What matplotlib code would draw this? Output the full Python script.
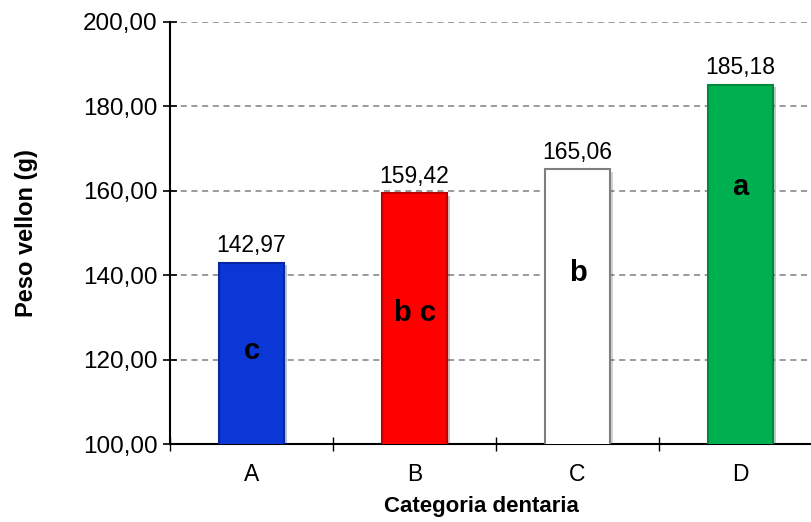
import matplotlib.pyplot as plt
import matplotlib.patheffects as pe
import numpy as np

plt.rcParams['font.family'] = ['Liberation Sans', 'DejaVu Sans']

categorias = ['A', 'B', 'C', 'D']
peso = [142.97, 159.42, 165.06, 185.18]
letras = ['c', 'b c', 'b', 'a']
letras_y = [122.0, 131.0, 140.5, 161.0]
colores = ['#0A37D6', '#FF0000', '#FFFFFF', '#00B050']
bordes = ['#0826A0', '#C00000', '#7F7F7F', '#00883C']

fig = plt.figure(figsize=(8.11, 5.22), dpi=100)
ax = fig.add_axes([170 / 811, 78 / 522, 652 / 811, 422 / 522])

x = np.arange(len(categorias))
sombra = [pe.SimplePatchShadow(offset=(2, -2), alpha=0.25), pe.Normal()]
barras = ax.bar(x, peso, width=0.4, bottom=0, color=colores, edgecolor=bordes,
                linewidth=1.5, zorder=3)
for b in barras:
    b.set_path_effects(sombra)

for xi, v in zip(x, peso):
    ax.annotate(f'{v:.2f}'.replace('.', ','), (xi, v), xytext=(0, 4),
                textcoords='offset points', ha='center', va='bottom', fontsize=16.5)

for xi, l, ly in zip(x, letras, letras_y):
    ax.text(xi, ly, l, ha='center', va='center', fontsize=21, fontweight='bold', zorder=4)

ax.set_ylim(100, 200)
ax.set_xlim(-0.5, 3.5)
yt = np.arange(100, 201, 20)
ax.set_yticks(yt)
ax.set_yticklabels([f'{v:.2f}'.replace('.', ',') for v in yt], fontsize=17.5)
ax.set_xticks(x)
ax.set_xticklabels(categorias, fontsize=16.5)
ax.set_xticks(np.arange(-0.5, 3.6, 1), minor=True)
ax.tick_params(axis='x', which='major', length=0, pad=14)
ax.tick_params(axis='x', which='minor', direction='inout', length=10, width=1)
ax.tick_params(axis='y', direction='inout', length=10, width=1.2, pad=4)

ax.grid(axis='y', linestyle=(0, (4, 3)), color='#808080', linewidth=1.1, zorder=0)
for s in ['top', 'right']:
    ax.spines[s].set_visible(False)
ax.spines['left'].set_linewidth(1.5)
ax.spines['bottom'].set_linewidth(1.5)

ax.set_ylabel('Peso vellon (g)', fontsize=17, fontweight='bold')
ax.set_xlabel('Categoria dentaria', fontsize=16, fontweight='bold')
ax.yaxis.set_label_coords(-132 / 652, 0.5)
ax.xaxis.set_label_coords(311 / 652, -52 / 422)

fig.savefig('out.png', dpi=100)
